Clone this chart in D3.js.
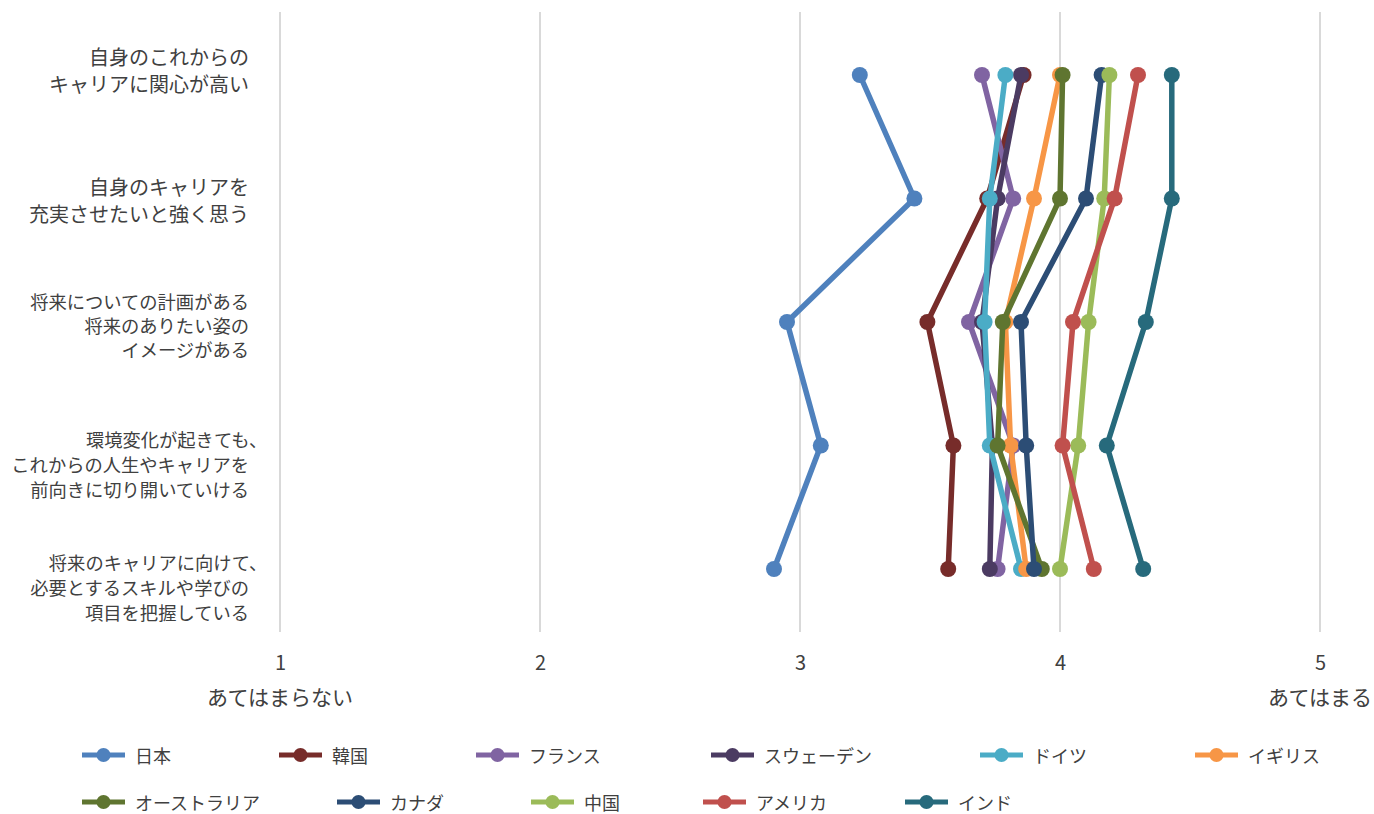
<!DOCTYPE html>
<html>
<head>
<meta charset="utf-8">
<script src="https://cdn.jsdelivr.net/npm/d3@7/dist/d3.min.js"></script>
<style>
  html, body { margin: 0; padding: 0; background: #ffffff; }
  svg { display: block; font-family: "Noto Sans CJK JP", "Noto Sans", sans-serif; }
</style>
</head>
<body>
<svg id="chart" width="1374" height="814"></svg>
<script>
// ---------- data ----------
const categories = [
  "自身のこれからの\nキャリアに関心が高い",
  "自身のキャリアを\n充実させたいと強く思う",
  "将来についての計画がある\n将来のありたい姿の\nイメージがある",
  "環境変化が起きても、\nこれからの人生やキャリアを\n前向きに切り開いていける",
  "将来のキャリアに向けて、\n必要とするスキルや学びの\n項目を把握している"
];
const countries = ["日本", "韓国", "フランス", "スウェーデン", "ドイツ", "イギリス",
                   "オーストラリア", "カナダ", "中国", "アメリカ", "インド"];
const japan     = [3.23, 3.44, 2.95, 3.08, 2.90];
const korea     = [3.86, 3.72, 3.49, 3.59, 3.57];
const france    = [3.70, 3.82, 3.65, 3.82, 3.76];
const sweden    = [3.85, 3.76, 3.70, 3.74, 3.73];
const germany   = [3.79, 3.73, 3.71, 3.73, 3.85];
const uk        = [4.00, 3.90, 3.79, 3.81, 3.87];
const australia = [4.01, 4.00, 3.78, 3.76, 3.93];
const canada    = [4.16, 4.10, 3.85, 3.87, 3.90];
const china     = [4.19, 4.17, 4.11, 4.07, 4.00];
const usa       = [4.30, 4.21, 4.05, 4.01, 4.13];
const india     = [4.43, 4.43, 4.33, 4.18, 4.32];
const xTicks = [1, 2, 3, 4, 5];
const xEndLabels = ["あてはまらない", "あてはまる"];

const seriesValues = [japan, korea, france, sweden, germany, uk, australia, canada, china, usa, india];

// ---------- style / layout ----------
const colors = ["#4f81bd", "#772c2a", "#8064a2", "#4b3b62", "#4bacc6", "#f79646",
                "#5f7530", "#2c4d75", "#9bbb59", "#c0504d", "#276a7c"];
const textColor = "#404040";

const svg = d3.select("#chart");
const x = d3.scaleLinear().domain([1, 5]).range([280, 1320]);
const y = d3.scalePoint().domain(d3.range(categories.length)).range([75, 569]);

// gridlines
svg.append("g").selectAll("line").data(xTicks).join("line")
  .attr("x1", d => x(d)).attr("x2", d => x(d))
  .attr("y1", 12).attr("y2", 632)
  .attr("stroke", "#d9d9d9").attr("stroke-width", 2);

// x axis tick labels
const xAxis = d3.axisBottom(x).tickValues(xTicks).tickFormat(d3.format("d")).tickSize(0).tickPadding(0);
const gx = svg.append("g").attr("transform", "translate(0,656)").call(xAxis);
gx.select(".domain").remove();
gx.selectAll("text").attr("font-size", 20).attr("fill", textColor)
  .attr("font-family", "'Noto Sans CJK JP', sans-serif");

// end labels
svg.append("g").selectAll("text").data(xEndLabels).join("text")
  .attr("x", (d, i) => x(i === 0 ? xTicks[0] : xTicks[xTicks.length - 1]))
  .attr("y", 696)
  .attr("text-anchor", "middle")
  .attr("dominant-baseline", "central")
  .attr("font-size", 21).attr("fill", textColor)
  .text(d => d);

// category labels
const labelLayout = [
  { dy: -5, lh: 26.5, fs: 20 },
  { dy: 1.5, lh: 26.5, fs: 20 },
  { dy: 3, lh: 24, fs: 18.3 },
  { dy: 18, lh: 25, fs: 18.3 },
  { dy: 17.5, lh: 25, fs: 18.3 }
];
const catG = svg.append("g");
categories.forEach((c, i) => {
  const lines = c.split("\n");
  const L = labelLayout[i];
  const mid = y(i) + L.dy;
  lines.forEach((ln, k) => {
    const hang = ln.endsWith("、") ? L.fs : 0;
    catG.append("text")
      .attr("x", 249 + hang)
      .attr("y", mid + (k - (lines.length - 1) / 2) * L.lh)
      .attr("text-anchor", "end")
      .attr("dominant-baseline", "central")
      .attr("font-size", L.fs)
      .attr("fill", textColor)
      .text(ln);
  });
});

// series
const line = d3.line().x(d => x(d.v)).y(d => y(d.i));
const seriesG = svg.append("g");
seriesValues.forEach((vals, s) => {
  const pts = vals.map((v, i) => ({ v, i }));
  const g = seriesG.append("g");
  g.append("path").datum(pts)
    .attr("d", line)
    .attr("fill", "none")
    .attr("stroke", colors[s])
    .attr("stroke-width", 5.5)
    .attr("stroke-linejoin", "round");
  g.selectAll("circle").data(pts).join("circle")
    .attr("cx", d => x(d.v)).attr("cy", d => y(d.i))
    .attr("r", 8)
    .attr("fill", colors[s]);
});

// legend
const legendPos = [
  [82, 755], [279, 755], [476, 755], [711, 755], [980, 755], [1195, 755],
  [82, 802], [337, 802], [531, 802], [703, 802], [905, 802]
];
const lg = svg.append("g");
countries.forEach((name, s) => {
  const [lx, ly] = legendPos[s];
  lg.append("line").attr("x1", lx).attr("x2", lx + 43).attr("y1", ly).attr("y2", ly)
    .attr("stroke", colors[s]).attr("stroke-width", 5);
  lg.append("circle").attr("cx", lx + 21.5).attr("cy", ly).attr("r", 7).attr("fill", colors[s]);
  lg.append("text").attr("x", lx + 53).attr("y", ly)
    .attr("dominant-baseline", "central")
    .attr("font-size", 18).attr("fill", textColor)
    .text(name);
});
</script>
</body>
</html>
